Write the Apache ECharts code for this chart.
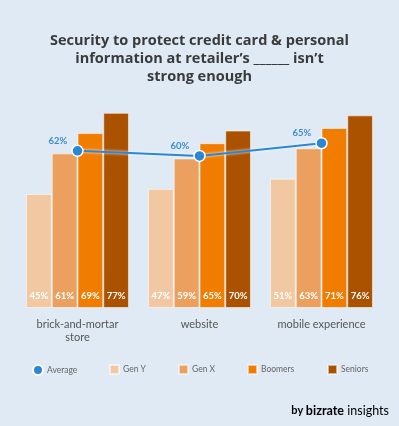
<!DOCTYPE html>
<html><head><meta charset="utf-8">
<script src="https://cdn.jsdelivr.net/npm/echarts@6/dist/echarts.min.js"></script>
<style>html,body{margin:0;padding:0;background:#dfeaf4;}#c{width:399px;height:426px;}</style>
</head><body><div id="c"></div>
<script>
const categories = ['brick-and-mortar\nstore', 'website', 'mobile experience'];
const genY = [45, 47, 51];
const genX = [61, 59, 63];
const boomers = [69, 65, 71];
const seniors = [77, 70, 76];
const average = [62, 60, 65];
const seriesNames = ['Average', 'Gen Y', 'Gen X', 'Boomers', 'Seniors'];
const colors = ['#2a86d6', '#f2c8a2', '#eba060', '#f07c00', '#ab5200'];
const titleText = 'Security to protect credit card & personal\ninformation at retailer\u2019s ______ isn\u2019t\nstrong enough';

const chart = echarts.init(document.getElementById('c'));
const font = 'Lato, "Open Sans", sans-serif';
function bar(name, data, color) {
  return {
    name, type: 'bar', data, barGap: '0%', barCategoryGap: '15.6%',
    itemStyle: { color, borderColor: 'rgba(255,255,255,0.55)', borderWidth: 1 },
    label: { show: true, position: 'insideBottom', distance: 7, color: '#fff', fontSize: 9.5, fontWeight: 'bold', fontFamily: font, formatter: '{c}%' },
    z: 2
  };
}
const legendLefts = [27, 104, 173, 242, 322];
chart.setOption({
  backgroundColor: '#dfeaf4',
  animation: false,
  legend: seriesNames.map((n, i) => ({
    data: [n], left: legendLefts[i], top: 359, itemWidth: i === 0 ? 10 : 9, itemHeight: i === 0 ? 10 : 9,
    icon: i === 0 ? 'circle' : 'rect', itemGap: 0,
    textStyle: { fontFamily: font, fontSize: 8.5, color: '#666', padding: [0, 0, 0, -1] },
    selectedMode: false
  })),
  grid: { left: 16.5, right: 16.5, top: 54.5, bottom: 118 },
  xAxis: {
    type: 'category', data: categories,
    axisLine: { show: false }, axisTick: { show: false },
    axisLabel: { color: '#555', fontSize: 11, fontFamily: font, lineHeight: 13, margin: 10 }
  },
  yAxis: { type: 'value', min: 0, max: 100, show: false, splitLine: { show: false } },
  series: [
    {
      name: 'Average', type: 'line', data: average, z: 10,
      symbol: 'circle', symbolSize: 11,
      lineStyle: { color: colors[0], width: 2, shadowColor: '#ffffff', shadowBlur: 3 },
      itemStyle: { color: colors[0], borderColor: '#fff', borderWidth: 1.5 },
      label: { show: true, position: 'left', distance: 4, offset: [0, -10], color: '#3a8dd0', fontSize: 9.5, fontWeight: 'bold', fontFamily: font, formatter: '{c}%' }
    },
    bar('Gen Y', genY, colors[1]),
    bar('Gen X', genX, colors[2]),
    bar('Boomers', boomers, colors[3]),
    bar('Seniors', seniors, colors[4])
  ],
  graphic: [{
    type: 'text', x: 199.5, y: 32,
    style: {
      text: titleText, textAlign: 'center', textVerticalAlign: 'top',
      fontFamily: '"Open Sans", sans-serif', fontSize: 14.5, fontWeight: 'bold', fill: '#3a3a3a', lineHeight: 18
    }
  }, {
    type: 'text', right: 10, top: 404,
    style: {
      text: '{a|by }{b|bizrate} {c|insights}',
      rich: {
        a: { fontFamily: font, fontSize: 11, color: '#222', fontWeight: 'bold' },
        b: { fontFamily: font, fontSize: 12.5, color: '#1f3558', fontWeight: 'bold' },
        c: { fontFamily: font, fontSize: 12.5, color: '#4a96d6' }
      }
    }
  }]
});
</script></body></html>
